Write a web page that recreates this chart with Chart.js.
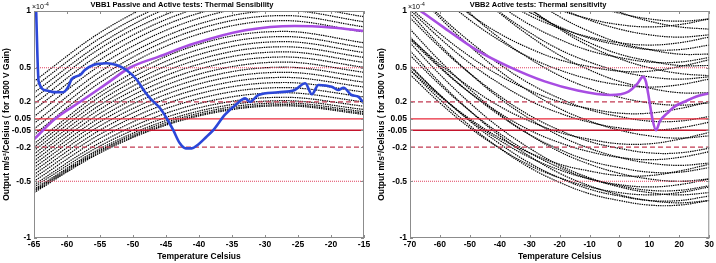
<!DOCTYPE html>
<html>
<head>
<meta charset="utf-8">
<script src="https://cdn.jsdelivr.net/npm/chart.js@4.4.0/dist/chart.umd.min.js"></script>
<style>
body { margin: 0; background: #fff; }
#left { position: absolute; left: 0; top: 0; width: 380px; height: 263px; }
#right { position: absolute; left: 366px; top: 0; width: 350px; height: 263px; }
</style>
</head>
<body>
<div id="left"><canvas id="vbb1"></canvas></div>
<div id="right"><canvas id="vbb2"></canvas></div>
<script>
// values in units of 1e-4 m/s^2/Celsius
var yTicks = [-1, -0.5, -0.2, -0.05, 0.05, 0.2, 0.5, 1];
var limitLevels = [0.05, -0.05, 0.2, -0.2, 0.5, -0.5];

// VBB1: family of sensitivity curves, read at these temperatures
var vbb1Temps = [-65, -55, -45, -35, -27, -15];
var vbb1Curves = [
  [0.38, 0.81, 1.11, 1.28, 1.32, 1.23],
  [0.33, 0.76, 1.06, 1.23, 1.275, 1.18],
  [0.28, 0.71, 1.02, 1.19, 1.23, 1.135],
  [0.23, 0.67, 0.97, 1.14, 1.185, 1.09],
  [0.18, 0.62, 0.925, 1.10, 1.14, 1.04],
  [0.13, 0.57, 0.88, 1.05, 1.095, 1.0],
  [0.07, 0.52, 0.83, 1.01, 1.05, 0.95],
  [0.01, 0.465, 0.78, 0.96, 1.005, 0.905],
  [-0.04, 0.417, 0.736, 0.916, 0.96, 0.86],
  [-0.09, 0.37, 0.69, 0.87, 0.915, 0.815],
  [-0.17, 0.28, 0.60, 0.78, 0.82, 0.72],
  [-0.20, 0.246, 0.557, 0.732, 0.775, 0.678],
  [-0.23, 0.209, 0.515, 0.688, 0.73, 0.634],
  [-0.26, 0.172, 0.473, 0.643, 0.685, 0.591],
  [-0.29, 0.135, 0.432, 0.599, 0.64, 0.547],
  [-0.32, 0.098, 0.39, 0.555, 0.595, 0.504],
  [-0.35, 0.061, 0.348, 0.51, 0.55, 0.46],
  [-0.38, 0.025, 0.307, 0.466, 0.505, 0.417],
  [-0.41, -0.012, 0.265, 0.422, 0.46, 0.373],
  [-0.44, -0.049, 0.224, 0.377, 0.415, 0.33],
  [-0.47, -0.086, 0.182, 0.333, 0.37, 0.286],
  [-0.50, -0.123, 0.14, 0.289, 0.325, 0.243],
  [-0.53, -0.16, 0.099, 0.244, 0.28, 0.199],
  [-0.55, -0.189, 0.063, 0.205, 0.24, 0.161],
  [-0.57, -0.214, 0.035, 0.176, 0.21, 0.132],
  [-0.58, -0.228, 0.018, 0.156, 0.19, 0.113],
  [-0.59, -0.24, 0.004, 0.141, 0.175, 0.099],
  [-0.60, -0.25, -0.006, 0.131, 0.165, 0.089]
];
var vbb1PurpleT = [-65, -61.8, -58, -54, -50.5, -46, -40.6, -33, -25.5, -20, -15];
var vbb1PurpleV = [-0.13, 0.05, 0.2, 0.36, 0.5, 0.6, 0.715, 0.83, 0.868, 0.855, 0.824];
var vbb1BlueT = [-64.7, -64.3, -63.1, -62, -60.6, -59.8, -59.3, -58.0, -57.3, -56.0, -54.0, -52.5, -51.0,
  -49.4, -48.4, -47.4, -45.9, -44.9, -43.9, -42.9, -42.0, -41.1, -40.2, -38.9, -37.8, -36.1, -34.5,
  -33.0, -32.3, -31.0, -28.0, -25.5, -23.9, -22.9, -21.9, -19.9, -18.9, -18.1, -16.9, -15.9, -15.0];
var vbb1BlueV = [1.05, 0.38, 0.3, 0.285, 0.284, 0.333, 0.40, 0.436, 0.48, 0.524, 0.539, 0.524, 0.48,
  0.392, 0.304, 0.231, 0.143, 0.055, -0.05, -0.166, -0.21, -0.21, -0.18, -0.11, -0.048, 0.084, 0.17,
  0.23, 0.2, 0.26, 0.284, 0.304, 0.363, 0.266, 0.348, 0.333, 0.304, 0.324, 0.26, 0.245, 0.187];

// VBB2
var vbb2Temps = [-70, -60, -50, -40, -30, -20, -10, 0, 10, 20, 30];
var vbb2Curves = [
  [0.48, 0.22, -0.01, -0.21, -0.38, -0.51, -0.61, -0.67, -0.71, -0.71, -0.67],
  [0.65, 0.37, 0.12, -0.10, -0.28, -0.43, -0.54, -0.62, -0.67, -0.69, -0.67],
  [0.52, 0.26, 0.03, -0.17, -0.34, -0.47, -0.57, -0.63, -0.67, -0.67, -0.63],
  [0.44, 0.19, -0.03, -0.21, -0.36, -0.47, -0.55, -0.60, -0.62, -0.60, -0.55],
  [0.72, 0.44, 0.19, -0.03, -0.21, -0.36, -0.47, -0.55, -0.60, -0.62, -0.60],
  [0.61, 0.35, 0.12, -0.08, -0.25, -0.38, -0.48, -0.54, -0.58, -0.58, -0.54],
  [0.51, 0.26, 0.04, -0.14, -0.29, -0.40, -0.48, -0.53, -0.55, -0.53, -0.48],
  [0.84, 0.56, 0.31, 0.09, -0.09, -0.24, -0.35, -0.43, -0.48, -0.50, -0.48],
  [0.48, 0.25, 0.05, -0.12, -0.25, -0.35, -0.41, -0.45, -0.45, -0.41, -0.35],
  [0.77, 0.51, 0.28, 0.08, -0.09, -0.22, -0.32, -0.38, -0.42, -0.42, -0.38],
  [0.98, 0.70, 0.45, 0.23, 0.05, -0.10, -0.21, -0.29, -0.34, -0.36, -0.34],
  [0.75, 0.50, 0.28, 0.10, -0.05, -0.16, -0.24, -0.29, -0.31, -0.29, -0.24],
  [0.94, 0.68, 0.45, 0.25, 0.08, -0.05, -0.15, -0.21, -0.25, -0.25, -0.21],
  [0.76, 0.53, 0.33, 0.16, 0.03, -0.07, -0.13, -0.17, -0.17, -0.13, -0.07],
  [1.22, 0.94, 0.69, 0.47, 0.29, 0.14, 0.03, -0.05, -0.10, -0.12, -0.10],
  [1.01, 0.76, 0.54, 0.36, 0.21, 0.10, 0.02, -0.03, -0.05, -0.03, 0.02],
  [1.22, 0.96, 0.73, 0.53, 0.36, 0.23, 0.13, 0.07, 0.03, 0.03, 0.07],
  [1.03, 0.80, 0.60, 0.43, 0.30, 0.20, 0.14, 0.10, 0.10, 0.14, 0.20],
  [1.51, 1.23, 0.98, 0.76, 0.58, 0.43, 0.32, 0.24, 0.19, 0.17, 0.19],
  [1.39, 1.14, 0.92, 0.74, 0.59, 0.48, 0.40, 0.35, 0.33, 0.35, 0.40],
  [1.74, 1.46, 1.21, 0.99, 0.81, 0.66, 0.55, 0.47, 0.42, 0.40, 0.42],
  [1.40, 1.17, 0.97, 0.80, 0.67, 0.57, 0.51, 0.47, 0.47, 0.51, 0.57],
  [1.74, 1.48, 1.25, 1.05, 0.88, 0.75, 0.65, 0.59, 0.55, 0.55, 0.59],
  [2.11, 1.81, 1.55, 1.32, 1.12, 0.95, 0.82, 0.72, 0.66, 0.62, 0.62],
  [1.76, 1.51, 1.29, 1.11, 0.96, 0.85, 0.77, 0.72, 0.70, 0.72, 0.77],
  [2.11, 1.83, 1.58, 1.36, 1.18, 1.03, 0.92, 0.84, 0.79, 0.77, 0.79],
  [2.49, 2.18, 1.90, 1.65, 1.43, 1.25, 1.10, 0.99, 0.91, 0.86, 0.84],
  [2.25, 1.97, 1.72, 1.50, 1.32, 1.17, 1.06, 0.98, 0.93, 0.91, 0.93],
  [2.01, 1.71, 1.45, 1.22, 1.02, 0.85, 0.72, 0.62, 0.56, 0.52, 0.52],
  [1.85, 1.59, 1.36, 1.16, 0.99, 0.86, 0.76, 0.70, 0.66, 0.66, 0.70],
  [2.08, 1.77, 1.49, 1.24, 1.02, 0.84, 0.69, 0.58, 0.50, 0.45, 0.43],
  [1.77, 1.47, 1.21, 0.98, 0.78, 0.61, 0.48, 0.38, 0.32, 0.28, 0.28],
  [1.92, 1.67, 1.45, 1.27, 1.12, 1.01, 0.93, 0.88, 0.86, 0.88, 0.93]
];
var vbb2PurpleT = [-68, -59, -48, -37, -25, -14, -3, 3, 6, 7.8, 8.8, 9.6, 11, 12.2, 13.5, 16, 18.5, 21.7, 25.5, 30];
var vbb2PurpleV = [1.03, 0.86, 0.66, 0.51, 0.38, 0.30, 0.26, 0.29, 0.36, 0.42, 0.38, 0.27, 0.05, -0.05, 0.03, 0.10, 0.16, 0.20, 0.245, 0.275];

Chart.defaults.font.family = '"Liberation Sans", Arial, Helvetica, sans-serif';
Chart.defaults.color = '#000';

function pts(xs, ys) {
  var out = [];
  for (var i = 0; i < xs.length; i++) out.push({x: xs[i], y: ys[i]});
  return out;
}

function curveSets(xs, curves, mode) {
  return curves.map(function(c) {
    return {
      data: pts(xs, c),
      borderColor: '#000',
      borderWidth: 1.2,
      borderDash: [1.4, 0.9],
      pointRadius: 0,
      cubicInterpolationMode: mode,
      tension: 0.4,
      order: 3
    };
  });
}

function levelSets(xMin, xMax) {
  return limitLevels.map(function(v) {
    var a = Math.abs(v), c, dash, w;
    if (a === 0.05) { c = v > 0 ? '#e8293a' : '#c4142c'; dash = []; w = 1.4; }
    else if (a === 0.2) { c = '#c23a52'; dash = [5, 3]; w = 1.3; }
    else { c = '#e0405f'; dash = [1, 1]; w = 1; }
    return {
      data: [{x: xMin, y: v}, {x: xMax, y: v}],
      borderColor: c, borderDash: dash, borderWidth: w,
      pointRadius: 0, order: 2
    };
  });
}

function thickLine(xs, ys, color, order) {
  return {
    data: pts(xs, ys),
    borderColor: color,
    borderWidth: 2.6,
    pointRadius: 0,
    cubicInterpolationMode: 'monotone',
    order: order
  };
}

// frame, inward ticks and the x10^-4 exponent label
var framePlugin = {
  id: 'frame',
  afterDraw: function(chart) {
    var a = chart.chartArea, ctx = chart.ctx;
    var xs = chart.scales.x, ys = chart.scales.y;
    ctx.save();
    ctx.strokeStyle = '#8c8c8c';
    ctx.lineWidth = 1;
    ctx.strokeRect(a.left + 0.5, a.top + 0.5, a.right - a.left - 1, a.bottom - a.top - 1);
    ctx.beginPath();
    xs.ticks.forEach(function(t) {
      var p = Math.round(xs.getPixelForValue(t.value)) + 0.5;
      ctx.moveTo(p, a.bottom); ctx.lineTo(p, a.bottom - 3);
      ctx.moveTo(p, a.top); ctx.lineTo(p, a.top + 3);
    });
    ys.ticks.forEach(function(t) {
      var p = Math.round(ys.getPixelForValue(t.value)) + 0.5;
      ctx.moveTo(a.left, p); ctx.lineTo(a.left + 3, p);
      ctx.moveTo(a.right, p); ctx.lineTo(a.right - 3, p);
    });
    ctx.stroke();
    ctx.fillStyle = '#000';
    ctx.font = '7px "Liberation Sans", Arial, sans-serif';
    ctx.textBaseline = 'alphabetic';
    ctx.fillText('\u00d710', a.left - 2, a.top - 2);
    var w = ctx.measureText('\u00d710').width;
    ctx.font = '5px "Liberation Sans", Arial, sans-serif';
    ctx.fillText('-4', a.left - 2 + w + 0.5, a.top - 5.5);
    ctx.restore();
  }
};

function makeChart(id, title, datasets, xMin, xMax, step, yWidth, yTitlePad, padRight) {
  return new Chart(document.getElementById(id), {
    type: 'line',
    data: { datasets: datasets },
    plugins: [framePlugin],
    options: {
      responsive: true,
      maintainAspectRatio: false,
      animation: false,
      events: [],
      layout: { padding: { left: 0, right: padRight, top: 0, bottom: 0 } },
      plugins: {
        legend: { display: false },
        tooltip: { enabled: false },
        title: {
          display: true,
          text: title,
          color: '#000',
          font: { size: 7.5, weight: 'bold' },
          padding: { top: 0, bottom: 2 }
        }
      },
      scales: {
        x: {
          type: 'linear',
          min: xMin,
          max: xMax,
          grid: { display: false, drawTicks: false },
          border: { display: false },
          ticks: { stepSize: step, autoSkip: false, maxRotation: 0, padding: 2,
            color: '#000', font: { size: 8.5, weight: 'bold' } },
          title: { display: true, text: 'Temperature Celsius', color: '#000',
            font: { size: 8.5, weight: 'bold' }, padding: { top: 0, bottom: 1 } },
          afterFit: function(s) { s.height = 25; }
        },
        y: {
          min: -1,
          max: 1,
          grid: { display: false, drawTicks: false },
          border: { display: false },
          afterBuildTicks: function(s) {
            s.ticks = yTicks.map(function(v) { return {value: v}; });
          },
          ticks: { autoSkip: false, padding: 3, color: '#000',
            font: { size: 8.5, weight: 'bold' },
            callback: function(v) { return String(v); } },
          title: { display: true, text: 'Output m/s\u00b2/Celsius ( for 1500 V Gain)', color: '#000',
            font: { size: 8.5, weight: 'bold' }, padding: { top: yTitlePad, bottom: 0 } },
          afterFit: function(s) { s.width = yWidth; }
        }
      }
    }
  });
}

var set1 = [thickLine(vbb1BlueT, vbb1BlueV, '#2c47d8', 0), thickLine(vbb1PurpleT, vbb1PurpleV, '#a84de2', 1)]
  .concat(levelSets(-65, -15))
  .concat(curveSets(vbb1Temps, vbb1Curves, 'monotone'));
makeChart('vbb1', 'VBB1 Passive and Active tests: Thermal Sensibility', set1, -65, -15, 5, 34, 2, 16);

var set2 = [thickLine(vbb2PurpleT, vbb2PurpleV, '#a84de2', 1)]
  .concat(levelSets(-70, 30))
  .concat(curveSets(vbb2Temps, vbb2Curves, 'default'));
makeChart('vbb2', 'VBB2 Active tests: Thermal sensitivity', set2, -70, 30, 10, 44, 11, 6);
</script>
</body>
</html>
